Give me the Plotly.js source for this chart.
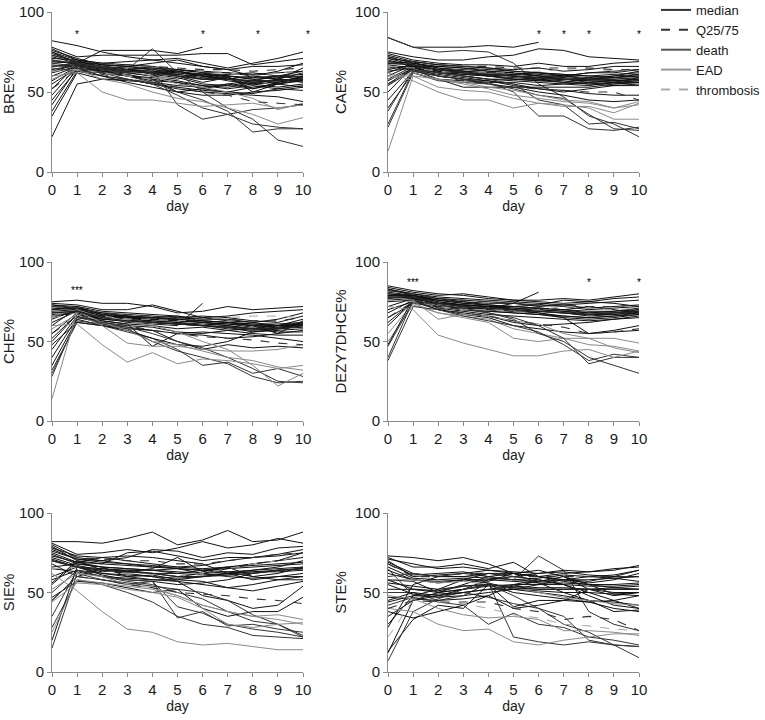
<!DOCTYPE html>
<html>
<head>
<meta charset="utf-8">
<script src="https://cdn.plot.ly/plotly-3.0.1.min.js"></script>
<style>html,body{margin:0;padding:0;background:#fff;}#chart{width:765px;height:720px;}</style>
</head>
<body>
<div id="chart"></div>
<script>
// ---------- DATA ----------
const days = [0,1,2,3,4,5,6,7,8,9,10];
const panelTitles = ["BRE%","CAE%","CHE%","DEZY7DHCE%","SIE%","STE%"];
const tickLabelsY = ["0","50","100"];
const legendNames = {m:"median", q:"Q25/75", d:"death", e:"EAD", t:"thrombosis"};

// line types: p = patient, d = death, e = EAD, t = thrombosis, m = median, q = Q25/75
const breLines = [
[74,69,67,66,65,64,63,62,61,62,63],
[69,68,66,65,64,62,61,60,59,60,61],
[71,70,67,66,64,63,61,60,58,59,60],
[57,66,64,63,62,61,59,58,57,57,57],
[63,67,65,64,63,61,60,59,56,57,59],
[82,79,75,72,70,68,66,64,60,58,57],
[75,68,76,76,76,74,78,null,null,null,null],
[78,72,73,73,73,73,74,74,67,69,71],
[77,70,68,69,70,71,68,65,68,71,75],
[76,71,67,66,68,70,66,64,66,66,67],
[75,70,68,67,66,64,62,62,60,63,68],
[73,69,66,64,65,63,60,58,55,58,62],
[72,68,65,64,62,61,58,60,50,55,58],
[70,67,64,63,62,60,56,59,52,56,60],
[68,69,66,64,61,59,55,54,56,58,65],
[66,68,63,62,60,58,62,60,58,55,53],
[64,67,62,60,58,56,54,52,54,52,51],
[62,66,64,63,62,63,60,57,55,53,55],
[60,66,63,60,57,56,52,50,53,55,57],
[55,65,63,61,58,50,52,55,57,60,63],
[52,67,64,62,60,64,62,58,60,58,56],
[48,66,65,64,63,62,60,61,62,60,58],
[45,64,62,60,59,57,54,53,55,56,59],
[42,65,60,58,55,53,51,50,49,52,54],
[38,63,60,56,53,50,48,48,50,51,53],
[35,62,58,58,55,52,50,49,48,47,44],
[22,55,58,57,56,54,53,55,52,55,60],
[70,68,66,64,77,62,50,40,33,20,16],
[68,66,64,62,64,42,33,36,39,40,42],
[65,63,62,60,56,50,45,38,25,27,27],
[67,65,62,58,55,48,40,36,30,28,27],
[60,62,50,45,45,43,41,42,43,40,42],
[58,64,58,55,50,46,44,40,36,30,34],
[66,67,65,63,60,55,53,50,46,39,43],
[63,64,62,60,58,60,63,62,60,62,63],
[66,67,65,63,62,60,58,58,57,57,58],
[73,69,68,67,66,65,64,64,63,64,65],
[52,64,61,58,56,53,50,48,44,43,42]
];
const breTypes = "ppppp" + "ppppppppppppppppppppppddddeeetmqq";

const caeLines = [
[69,68,65,64,63,62,61,60,59,60,61],
[65,66,64,63,62,61,60,59,58,59,60],
[71,69,67,66,65,63,62,61,60,61,62],
[63,65,63,62,61,60,59,58,57,57,58],
[57,65,62,61,60,58,57,56,55,56,56],
[84,78,78,78,79,78,81,null,null,null,null],
[84,78,75,76,75,68,55,47,35,30,22],
[75,72,70,70,72,73,77,76,72,71,70],
[74,70,68,67,67,66,68,66,66,68,69],
[73,69,67,66,65,64,65,63,64,66,66],
[72,68,66,65,63,62,60,60,62,62,64],
[71,67,64,62,61,60,58,56,58,60,63],
[70,66,66,65,64,63,62,61,60,59,61],
[68,69,63,62,60,58,57,58,57,56,59],
[67,65,62,60,58,57,56,55,56,57,58],
[66,64,58,57,56,56,54,55,54,56,57],
[64,67,64,63,62,62,60,58,56,55,56],
[62,68,65,63,60,59,58,57,55,54,55],
[60,67,62,60,58,58,58,60,62,63,64],
[58,66,60,58,57,54,52,50,52,54,54],
[55,65,63,61,60,61,62,60,58,57,57],
[54,64,61,59,57,55,52,51,49,48,48],
[50,66,64,62,61,60,59,58,58,59,60],
[45,63,60,58,55,53,50,48,45,44,45],
[40,62,58,53,53,53,53,53,53,55,56],
[38,64,62,60,58,55,45,42,30,31,27],
[30,63,60,58,56,50,35,35,27,26,28],
[28,62,57,56,55,52,48,46,36,27,26],
[62,57,50,45,45,40,43,41,41,37,43],
[60,60,53,51,50,46,43,42,40,33,33],
[13,60,58,55,52,48,46,44,43,40,44],
[58,62,58,56,53,51,48,45,44,40,42],
[66,65,63,62,62,62,63,64,65,63,64],
[68,67,64,62,61,60,59,58,58,58,59],
[72,69,67,66,66,65,65,65,65,64,64],
[55,64,60,57,55,53,52,51,50,50,45]
];
const caeTypes = "ppppp" + "pdppppppppppppppppppdddeeeetmqq";

const cheLines = [
[69,70,67,66,65,64,63,62,61,61,62],
[65,69,66,65,64,63,62,61,60,60,61],
[70,71,68,66,65,64,63,62,60,59,60],
[52,67,64,63,62,61,60,59,58,58,59],
[73,71,67,66,65,64,62,61,59,60,61],
[75,76,74,74,72,68,69,72,70,71,72],
[74,73,70,70,73,69,65,66,68,69,70],
[73,72,69,68,67,66,64,64,62,64,68],
[72,71,68,67,66,65,66,65,63,62,66],
[71,70,66,65,64,63,62,60,58,60,64],
[70,72,67,65,63,62,60,58,57,58,62],
[68,69,64,63,64,64,65,63,62,60,60],
[66,68,65,66,62,61,60,59,56,57,58],
[64,70,66,64,63,62,61,60,58,56,56],
[62,69,63,61,60,58,59,57,55,54,54],
[60,71,65,62,61,60,74,null,null,null,null],
[55,68,64,63,62,61,60,62,61,60,62],
[50,67,62,60,59,56,55,57,58,59,61],
[45,66,61,59,57,55,54,52,53,55,57],
[40,65,63,61,47,55,56,55,54,52,50],
[35,64,60,58,57,50,45,48,46,47,46],
[32,62,60,56,52,45,35,37,30,33,28],
[30,63,61,58,50,44,40,36,28,24,25],
[28,65,62,59,55,50,46,40,33,25,24],
[48,62,60,57,52,48,47,50,56,58,60],
[67,68,66,65,65,66,63,62,60,55,63],
[60,61,48,37,43,36,39,38,36,33,35],
[14,69,62,57,50,48,44,40,38,34,32],
[58,67,60,49,47,47,45,44,44,45,48],
[66,70,65,63,60,56,50,45,35,22,30],
[65,68,66,64,64,63,64,65,66,66,65],
[68,69,65,63,62,61,60,59,58,58,60],
[72,71,68,67,66,65,64,64,63,63,65],
[55,66,62,60,57,55,53,52,51,49,48]
];
const cheTypes = "ppppp" + "ppppppppppppppppdddppeeeetmqq";

const dezLines = [
[80,79,76,75,73,72,71,70,69,69,70],
[76,77,74,72,71,70,69,68,67,67,68],
[79,78,75,73,72,71,70,69,68,68,69],
[62,75,72,70,69,68,67,66,65,66,67],
[85,82,80,79,77,76,75,74,75,77,78],
[84,81,79,80,78,76,76,77,76,78,80],
[83,80,78,77,76,75,74,73,74,75,76],
[82,80,77,76,75,74,72,73,71,72,73],
[81,79,77,75,74,74,73,72,70,71,72],
[80,78,76,74,73,72,71,70,68,69,71],
[79,79,75,73,72,71,70,69,67,68,70],
[78,77,74,73,72,70,69,68,66,67,69],
[77,78,73,71,70,69,68,66,65,66,68],
[75,76,72,70,69,68,67,65,64,65,67],
[72,77,71,69,67,66,65,64,63,64,66],
[70,75,74,73,72,72,73,76,75,74,72],
[68,76,70,68,66,62,60,61,62,64,65],
[65,74,72,71,71,74,81,null,null,null,null],
[60,75,70,67,65,60,58,56,55,56,57],
[55,74,68,66,64,58,55,52,48,47,44],
[50,73,68,65,62,52,50,52,52,52,49],
[47,75,72,70,68,65,60,52,36,40,40],
[40,76,73,71,68,64,55,50,40,35,30],
[38,72,70,66,63,60,56,48,38,42,40],
[83,79,76,74,73,70,68,65,55,57,60],
[48,77,74,72,70,69,71,70,72,70,68],
[72,70,54,49,45,41,41,44,45,40,44],
[78,76,64,67,66,63,61,55,52,46,43],
[76,75,72,70,70,69,70,72,71,70,71],
[78,78,74,72,71,70,69,68,67,68,69],
[82,80,77,76,75,74,73,73,72,72,73],
[65,75,71,68,66,63,61,59,55,56,58]
];
const dezTypes = "pppp" + "pppppppppppppppeedddppeetmqq";

const sieLines = [
[73,69,68,67,66,66,65,66,67,68,69],
[77,71,70,68,67,65,64,65,66,67,68],
[66,68,66,65,64,62,61,62,63,64,65],
[58,64,62,61,60,59,60,62,63,63,64],
[71,66,65,64,64,63,62,63,64,65,66],
[82,82,81,84,88,80,83,89,82,83,88],
[81,74,75,77,75,78,82,78,80,84,81],
[80,72,70,72,77,76,72,75,74,78,79],
[79,70,68,75,76,73,70,72,72,74,77],
[78,73,72,70,68,66,67,70,72,73,75],
[76,71,69,68,66,65,64,66,68,70,72],
[75,69,72,73,72,70,68,62,58,60,62],
[74,68,66,65,64,65,62,60,59,60,60],
[72,67,64,63,62,62,64,63,60,58,58],
[70,66,62,60,61,58,57,53,51,54,57],
[68,60,65,63,65,72,63,66,60,62,66],
[65,63,60,59,58,58,60,62,64,66,70],
[60,66,61,58,57,55,56,58,62,64,65],
[56,70,64,62,60,57,55,53,55,58,60],
[55,69,66,60,58,57,48,45,40,42,54],
[50,64,60,58,57,41,37,30,27,25,22],
[47,57,56,53,50,52,40,35,38,38,47],
[45,60,58,55,57,34,38,29,30,27,25],
[35,64,60,57,55,50,46,38,32,30,23],
[28,58,55,50,44,35,30,28,23,22,21],
[15,62,58,56,54,52,50,45,36,30,22],
[20,66,63,64,62,60,62,65,68,70,75],
[62,51,38,27,25,19,17,18,16,14,14],
[25,58,56,54,52,48,42,38,35,36,33],
[44,56,55,52,50,47,40,30,28,30,31],
[65,66,64,62,62,60,62,65,68,70,73],
[52,62,60,55,53,48,42,38,35,33,30],
[70,66,64,63,62,60,60,61,62,64,65],
[78,72,71,70,70,68,68,70,72,74,75],
[45,60,58,55,53,50,49,48,46,45,43]
];
const sieTypes = "ppppp" + "pppppppppppppppdpddddpeeetemqq";

const steLines = [
[64,58,57,58,58,57,56,56,55,55,56],
[56,54,52,54,55,54,53,53,52,53,54],
[69,62,60,60,59,58,57,58,58,59,60],
[52,52,50,52,54,55,55,55,54,54,55],
[44,48,49,50,52,52,51,50,50,49,50],
[73,72,70,72,68,62,60,58,56,58,62],
[72,66,66,68,65,69,60,58,57,60,64],
[71,68,65,66,64,62,60,62,63,64,67],
[70,60,61,62,64,63,62,63,61,60,60],
[68,61,62,63,60,58,59,61,60,59,57],
[66,59,58,59,57,62,60,57,55,53,52],
[65,48,47,50,47,43,40,35,20,17,16],
[62,58,56,58,56,52,50,48,45,44,42],
[60,62,60,62,60,58,73,64,38,30,26],
[58,57,50,52,55,50,48,46,44,45,48],
[55,49,47,48,50,52,55,58,60,61,64],
[50,50,45,48,56,22,19,17,19,17,16],
[47,46,45,46,48,40,42,45,52,50,50],
[45,50,48,50,52,54,57,60,55,49,48],
[42,47,44,42,30,37,30,28,22,20,17],
[38,34,38,42,48,55,58,55,48,42,40],
[35,45,50,55,60,62,64,60,52,48,50],
[30,48,52,58,62,60,58,55,50,45,40],
[13,33,42,40,55,41,45,45,44,40,38],
[12,45,48,52,58,60,62,64,63,65,66],
[7,38,46,52,55,48,40,30,25,17,9],
[28,55,60,60,62,62,56,50,45,38,39],
[40,38,30,26,27,19,17,20,22,24,24],
[48,46,40,36,34,35,33,26,26,25,23],
[22,45,44,43,40,36,34,30,29,27,26],
[58,58,56,57,55,53,50,47,45,43,42],
[58,52,51,54,55,53,52,52,52,52,52],
[68,60,60,62,62,60,60,60,60,60,60],
[40,45,44,44,44,40,38,33,35,33,26]
];
const steTypes = "ppppp" + "ppppppdpdppdppdpppppdpeetemqq";

// significance markers (day, label)
const breStarDays = [1,6,8.2,10];     const breStarText = ["*","*","*","*"];
const caeStarDays = [6,7,8,10];       const caeStarText = ["*","*","*","*"];
const cheStarDays = [1];              const cheStarText = ["***"];
const dezStarDays = [1,8,10];         const dezStarText = ["***","*","*"];
const sieStarDays = [];               const sieStarText = [];
const steStarDays = [];               const steStarText = [];
const starLevel = [86,86,82,87,0,0];

// ---------- BUILD ----------
const panels = [
  {lines:breLines, types:breTypes, sd:breStarDays, st:breStarText, lastShift:5},
  {lines:caeLines, types:caeTypes, sd:caeStarDays, st:caeStarText, lastShift:0},
  {lines:cheLines, types:cheTypes, sd:cheStarDays, st:cheStarText, lastShift:0},
  {lines:dezLines, types:dezTypes, sd:dezStarDays, st:dezStarText, lastShift:0},
  {lines:sieLines, types:sieTypes, sd:sieStarDays, st:sieStarText, lastShift:0},
  {lines:steLines, types:steTypes, sd:steStarDays, st:steStarText, lastShift:0}
];
const styles = {
  p:{color:'#111111', width:1.0, dash:'solid'},
  d:{color:'#333333', width:1.0, dash:'solid'},
  e:{color:'#8a8a8a', width:1.0, dash:'solid'},
  t:{color:'#a6a6a6', width:1.0, dash:'dash'},
  m:{color:'#222222', width:1.4, dash:'solid'},
  q:{color:'#333333', width:1.1, dash:'dash'}
};
const legendOrder = {m:1,q:2,d:3,e:4,t:5};
const legendStyles = {
  m:{color:'#333333', width:2, dash:'solid'},
  q:{color:'#333333', width:2, dash:'dash'},
  d:{color:'#555555', width:2, dash:'solid'},
  e:{color:'#999999', width:2, dash:'solid'},
  t:{color:'#aaaaaa', width:2, dash:'dash'}
};

const traces = [];
const annotations = [];
const layout = {
  width:765, height:720,
  margin:{l:0,r:0,t:0,b:0, autoexpand:false},
  paper_bgcolor:'#fff', plot_bgcolor:'#fff',
  font:{family:'"Liberation Sans", Arial, sans-serif', color:'#1a1a1a', size:14},
  showlegend:true,
  legend:{x:0.8575, y:1.007, xanchor:'left', yanchor:'top', font:{size:13, color:'#1a1a1a'},
          bgcolor:'rgba(0,0,0,0)', tracegroupgap:0, itemwidth:30},
  annotations:annotations
};
const xDomains = [[52/765,303/765],[388/765,639/765]];
const yDomains = [[1-172/720,1-12/720],[1-421/720,1-262/720],[1-672/720,1-513/720]];

panels.forEach((pn, i) => {
  const ax = i===0 ? '' : String(i+1);
  const col = i%2, row = Math.floor(i/2);
  pn.lines.forEach((vals, k) => {
    const t = pn.types[k] || 'p';
    const s = styles[t];
    traces.push({
      type:'scatter', mode:'lines', x:days, y:vals,
      xaxis:'x'+ax, yaxis:'y'+ax,
      line:{color:s.color, width:s.width, dash:s.dash},
      connectgaps:false, hoverinfo:'skip', showlegend:false
    });
  });
  pn.sd.forEach((d, k) => {
    annotations.push({xref:'x'+ax, yref:'y'+ax, x:d, y:starLevel[i], text:pn.st[k],
      xshift:(k===pn.sd.length-1 ? pn.lastShift : 0),
      showarrow:false, font:{size:10, color:'#000'}});
  });
  const axisCommon = {showline:true, linecolor:'#8a8a8a', linewidth:1, ticks:'outside',
    ticklen:4, tickcolor:'#8a8a8a', showgrid:false, zeroline:false, fixedrange:true,
    tickfont:{size:15, color:'#1a1a1a'}, automargin:false};
  layout['xaxis'+ax] = Object.assign({}, axisCommon, {
    domain:xDomains[col], range:[0,10], tickmode:'array', tickvals:days,
    ticktext:days.map(String), anchor:'y'+ax,
    title:{text:'day', font:{size:14}, standoff:1}
  });
  layout['yaxis'+ax] = Object.assign({}, axisCommon, {
    domain:yDomains[row], range:[0,100], tickmode:'array', tickvals:[0,50,100],
    ticktext:tickLabelsY, anchor:'x'+ax,
    title:{text:panelTitles[i], font:{size:15}, standoff:4}
  });
});

// legend entries
['m','q','d','e','t'].forEach(t => {
  const s = legendStyles[t];
  traces.push({type:'scatter', mode:'lines', x:[null], y:[null], name:legendNames[t],
    line:{color:s.color, width:s.width, dash:s.dash}, legendrank:legendOrder[t], showlegend:true,
    xaxis:'x', yaxis:'y', hoverinfo:'skip'});
});

Plotly.newPlot('chart', traces, layout, {staticPlot:true, displayModeBar:false});
</script>
</body>
</html>
